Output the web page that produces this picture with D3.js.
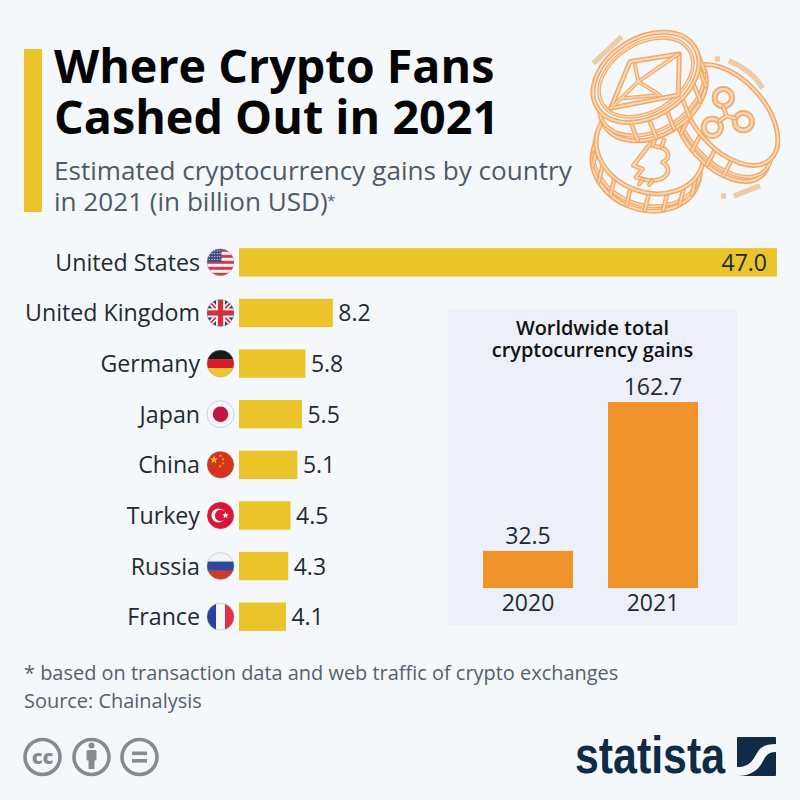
<!DOCTYPE html>
<html><head><meta charset="utf-8">
<script src="https://cdn.jsdelivr.net/npm/d3@7"></script>
<style>
html,body{margin:0;padding:0;background:#f5f8fb}
svg{display:block}
text{font-family:"Open Sans",sans-serif}
</style></head><body>
<div id="chart"></div>
<script>
const countries=["United States","United Kingdom","Germany","Japan","China","Turkey","Russia","France"];
const gains=[47.0,8.2,5.8,5.5,5.1,4.5,4.3,4.1];
const years=["2020","2021"];
const totals=[32.5,162.7];
const titleLines=["Where Crypto Fans","Cashed Out in 2021"];
const subtitleLines=["Estimated cryptocurrency gains by country","in 2021 (in billion USD)"];
const footnotes=["* based on transaction data and web traffic of crypto exchanges","Source: Chainalysis"];

const svg=d3.select("#chart").append("svg").attr("width",800).attr("height",800);
svg.append("rect").attr("width",800).attr("height",800).attr("fill","#f5f8fb");

// header
svg.append("rect").attr("x",24).attr("y",49).attr("width",18).attr("height",163).attr("fill","#ebc42c");
svg.append("g").selectAll("text").data(titleLines).join("text")
  .attr("x",54).attr("y",(d,i)=>83+i*51)
  .attr("font-size",46.7).attr("font-weight",700).attr("fill","#050505").text(d=>d);
const sub=svg.append("g").attr("fill","#4f5a65").attr("font-size",26.1);
sub.selectAll("text").data(subtitleLines).join("text")
  .attr("x",54).attr("y",(d,i)=>179.5+i*31.5).text(d=>d);
sub.append("text").attr("x",327).attr("y",206).attr("font-size",15).text("*");

// bars
const x=d3.scaleLinear().domain([0,47]).range([239,777]);
const y=d3.scaleBand().domain(countries).range([237,642]).paddingInner(0.44).paddingOuter(0.22);
svg.selectAll("rect.bar").data(countries).join("rect").attr("class","bar")
  .attr("x",x(0)).attr("y",d=>y(d)).attr("height",y.bandwidth())
  .attr("width",(d,i)=>x(gains[i])-x(0)).attr("fill","#ebc42c");
const axisG=svg.append("g").attr("transform","translate(200,1)")
  .call(d3.axisLeft(y).tickSize(0).tickPadding(0));
axisG.select(".domain").remove();
axisG.selectAll("text").attr("font-size",23.2).attr("fill","#1f2a33").attr("font-family",'"Open Sans",sans-serif');
svg.selectAll("text.val").data(countries).join("text").attr("class","val")
  .attr("x",(d,i)=>i===0?x(gains[i])-10:x(gains[i])+5.5)
  .attr("y",d=>y(d)+y.bandwidth()/2+8.5)
  .attr("text-anchor",(d,i)=>i===0?"end":"start")
  .attr("font-size",23).attr("fill","#1f2a33")
  .text((d,i)=>gains[i].toFixed(1));

// flags
const defs=svg.append("defs");
defs.append("clipPath").attr("id","fc").append("circle").attr("r",13.5);
const R=13.5;
function stripesH(g,cols){const h=2*R/cols.length;cols.forEach((c,i)=>g.append("rect").attr("x",-R).attr("y",-R+i*h).attr("width",2*R).attr("height",h+.3).attr("fill",c));}
function stripesV(g,cols){const w=2*R/cols.length;cols.forEach((c,i)=>g.append("rect").attr("x",-R+i*w).attr("y",-R).attr("width",w+.3).attr("height",2*R).attr("fill",c));}
function star(g,cx,cy,r,c){const p=d3.range(10).map(i=>{const a=-Math.PI/2+i*Math.PI/5,q=i%2?r*.42:r;return [cx+q*Math.cos(a),cy+q*Math.sin(a)]});g.append("polygon").attr("points",p.join(" ")).attr("fill",c);}
const flagDraw={
 "United States":g=>{stripesH(g,["#c8404f","#f4f0f0","#c8404f","#f4f0f0","#c8404f","#f4f0f0","#c8404f","#f4f0f0","#c8404f"]);
   g.append("rect").attr("x",-R).attr("y",-R).attr("width",R+1).attr("height",R-.5).attr("fill","#3f4a86");
   for(let r=0;r<4;r++)for(let c=0;c<5;c++)g.append("circle").attr("cx",-R+2.5+c*2.6).attr("cy",-R+2+r*2.9).attr("r",.6).attr("fill","#e8e8f0");},
 "United Kingdom":g=>{g.append("rect").attr("x",-R).attr("y",-R).attr("width",2*R).attr("height",2*R).attr("fill","#2c3a77");
   [[-R,-R,R,R],[-R,R,R,-R]].forEach(l=>{g.append("line").attr("x1",l[0]).attr("y1",l[1]).attr("x2",l[2]).attr("y2",l[3]).attr("stroke","#f3f0f0").attr("stroke-width",5);
     g.append("line").attr("x1",l[0]).attr("y1",l[1]).attr("x2",l[2]).attr("y2",l[3]).attr("stroke","#cf3143").attr("stroke-width",1.8);});
   g.append("rect").attr("x",-R).attr("y",-4.5).attr("width",2*R).attr("height",9).attr("fill","#f3f0f0");
   g.append("rect").attr("x",-4.5).attr("y",-R).attr("width",9).attr("height",2*R).attr("fill","#f3f0f0");
   g.append("rect").attr("x",-R).attr("y",-2.6).attr("width",2*R).attr("height",5.2).attr("fill","#cf3143");
   g.append("rect").attr("x",-2.6).attr("y",-R).attr("width",5.2).attr("height",2*R).attr("fill","#cf3143");},
 "Germany":g=>stripesH(g,["#1a1a1a","#d5202a","#f2c42c"]),
 "Japan":g=>{g.append("circle").attr("r",R).attr("fill","#f7f7f7");g.append("circle").attr("r",7.8).attr("fill","#c4173f");},
 "China":g=>{g.append("circle").attr("r",R).attr("fill","#d6321e");star(g,-6.5,-5,4.2,"#f5c12f");star(g,0,-9,1.6,"#f5c12f");star(g,2.5,-5.5,1.6,"#f5c12f");star(g,2.5,-1.5,1.6,"#f5c12f");star(g,-.5,1.5,1.6,"#f5c12f");},
 "Turkey":g=>{g.append("circle").attr("r",R).attr("fill","#dc1437");g.append("circle").attr("cx",-2).attr("r",7).attr("fill","#fff");g.append("circle").attr("cx",0).attr("r",5.6).attr("fill","#dc1437");star(g,5,0,3.4,"#fff");},
 "Russia":g=>stripesH(g,["#f4f4f4","#2b4aa0","#cf3a2a"]),
 "France":g=>stripesV(g,["#27409c","#f7f7f7","#e23246"])
};
const flags=svg.selectAll("g.flag").data(countries).join("g").attr("class","flag")
  .attr("transform",d=>`translate(220.5,${y(d)+y.bandwidth()/2})`);
flags.each(function(d){
  const g=d3.select(this).append("g").attr("clip-path","url(#fc)");
  flagDraw[d](g);
  d3.select(this).append("circle").attr("r",R).attr("fill","none").attr("stroke","#9aa0a8").attr("stroke-opacity",.55).attr("stroke-width",.8);
});

// inset
svg.append("rect").attr("x",448).attr("y",309).attr("width",289).attr("height",316).attr("fill","#edf0f8");
svg.append("g").selectAll("text").data(["Worldwide total","cryptocurrency gains"]).join("text")
  .attr("x",592.5).attr("y",(d,i)=>334.5+i*22.5).attr("text-anchor","middle")
  .attr("font-size",19.9).attr("font-weight",600).attr("fill","#111").text(d=>d);
const bx=d3.scaleBand().domain(years).range([458,723]).paddingInner(0.28).paddingOuter(0.2);
const by=d3.scaleLinear().domain([0,162.7]).range([588,402]);
svg.selectAll("rect.tot").data(years).join("rect").attr("class","tot")
  .attr("x",d=>bx(d)).attr("width",bx.bandwidth())
  .attr("y",(d,i)=>by(totals[i])).attr("height",(d,i)=>by(0)-by(totals[i])).attr("fill","#f0932b");
svg.selectAll("text.totv").data(years).join("text").attr("class","totv")
  .attr("x",d=>bx(d)+bx.bandwidth()/2).attr("y",(d,i)=>by(totals[i])-7)
  .attr("text-anchor","middle").attr("font-size",23).attr("fill","#1f2a33")
  .text((d,i)=>totals[i].toFixed(1));
const xAx=svg.append("g").attr("transform","translate(0,588)").call(d3.axisBottom(bx).tickSize(0).tickPadding(7));
xAx.select(".domain").remove();
xAx.selectAll("text").attr("font-size",23).attr("fill","#1f2a33").attr("font-family",'"Open Sans",sans-serif');

// footer
svg.append("g").selectAll("text").data(footnotes).join("text")
  .attr("x",24).attr("y",(d,i)=>680+i*28).attr("font-size",19.95).attr("fill","#56606a").text(d=>d);

// cc icons
const ccG=svg.append("g").attr("stroke","#858b90").attr("fill","none");
[42.5,91.5,139.5].forEach(cx=>ccG.append("circle").attr("cx",cx).attr("cy",757).attr("r",17.5).attr("stroke-width",3.6));
svg.append("text").attr("x",42.5).attr("y",764).attr("text-anchor","middle").attr("font-size",20).attr("font-weight",800).attr("fill","#858b90").text("cc");
const pers=svg.append("g").attr("fill","#858b90");
pers.append("circle").attr("cx",91.5).attr("cy",745.5).attr("r",3);
pers.append("rect").attr("x",86.5).attr("y",750).attr("width",10).attr("height",10.5).attr("rx",1.5);
pers.append("rect").attr("x",88.5).attr("y",758).attr("width",6).attr("height",11);
pers.append("rect").attr("x",132).attr("y",751.5).attr("width",15).attr("height",3.6);
pers.append("rect").attr("x",132).attr("y",759).attr("width",15).attr("height",3.6);

// statista logo
svg.append("text").attr("x",575).attr("y",773).attr("font-size",52).attr("font-weight",700)
  .style("font-family",'"Liberation Sans Narrow","Liberation Sans",sans-serif')
  .attr("textLength",150).attr("lengthAdjust","spacingAndGlyphs").attr("fill","#0f2b45").text("statista");
svg.append("rect").attr("x",737).attr("y",737).attr("width",39).attr("height",39).attr("rx",1).attr("fill","#0f2b45");
svg.append("path").attr("d","M737,767 C750,767 753,760 757,753 C760,747 766,744 776,744 L776,752 C769,752 766,755 763,761 C759,769 752,776 737,776 Z").attr("fill","#f5f8fb");

// coin illustration (decorative); coordinates in a 660x600 space
const coin=svg.append("g").attr("transform","translate(570,20) scale(0.3333)").attr("fill","none").attr("stroke-linejoin","round").attr("stroke-linecap","round");
const ORANGE="#f1a968",PALE="#fbd8b6",BG="#f5f8fb";
function ln(d,w){w=w||15;coin.append("path").attr("d",d).attr("stroke",ORANGE).attr("stroke-width",w);coin.append("path").attr("d",d).attr("stroke",PALE).attr("stroke-width",w*.4);}
function ell(cx,cy,rx,ry,rot,fill,w){w=w||15;
  const e=()=>coin.append("ellipse").attr("cx",cx).attr("cy",cy).attr("rx",rx).attr("ry",ry).attr("transform",`rotate(${rot} ${cx} ${cy})`);
  e().attr("fill",fill||"none").attr("stroke",ORANGE).attr("stroke-width",w);
  e().attr("stroke",PALE).attr("stroke-width",w*.4);}
function pt(cx,cy,rx,ry,rot,t){const a=rot*Math.PI/180,c=Math.cos(t*Math.PI/180)*rx,s=Math.sin(t*Math.PI/180)*ry;return [cx+c*Math.cos(a)-s*Math.sin(a),cy+c*Math.sin(a)+s*Math.cos(a)];}
function drawCoin(cx,cy,rx,ry,rot,dx,dy,ticks){
  ell(cx+dx,cy+dy,rx,ry,rot,BG);
  ell(cx+dx*.72,cy+dy*.72,rx,ry,rot,BG,12);
  ticks.forEach(t=>{const a=pt(cx,cy,rx,ry,rot,t),b=pt(cx+dx,cy+dy,rx,ry,rot,t);ln(`M${a} L${b}`,14);});
  ell(cx,cy,rx,ry,rot,BG);
}
function dash(d){coin.append("path").attr("d",d).attr("stroke","#eccba6").attr("stroke-width",16).attr("stroke-linecap","butt");}
dash("M70,130 L155,50");dash("M476,122 C520,140 555,165 578,205");dash("M435,117 L450,117");
dash("M492,528 L570,497");dash("M453,528 L468,528");

// bottom coin
drawCoin(240,385,165,132,20,-12,52,[15,35,55,75,95,115,135,155,175]);
ln("M190,437 L218,447 L198,472 L240,482 C292,482 312,447 277,427 C305,415 300,385 260,380 L240,372 Z",14);
ln("M248,378 L256,355 M276,378 L282,360 M218,478 L208,492 M246,484 L238,494",14);
// right coin
drawCoin(480,285,180,105,48,-25,48,[55,75,95,115,135,155,175]);
coin.selectAll(null).data([[460,233],[427,322],[520,305]]).join("circle")
  .attr("cx",d=>d[0]).attr("cy",d=>d[1]).attr("r",26).attr("stroke",ORANGE).attr("stroke-width",18);
coin.selectAll(null).data([[460,233],[427,322],[520,305]]).join("circle")
  .attr("cx",d=>d[0]).attr("cy",d=>d[1]).attr("r",26).attr("stroke",PALE).attr("stroke-width",8);
ln("M460,262 L470,288 L448,303 M470,288 L494,295",14);
// top coin
drawCoin(228,172,172,118,-32,22,55,[-10,10,30,50,70,90,110,130]);
ell(228,172,153,102,-32,null,11);
// ethereum
ln("M122,265 L325,225 L328,102 L180,125 Z",15);
ln("M122,265 L205,185 L325,102 M205,185 L270,225 M195,135 L205,185 M160,235 L270,225",12);
</script>
</body></html>
